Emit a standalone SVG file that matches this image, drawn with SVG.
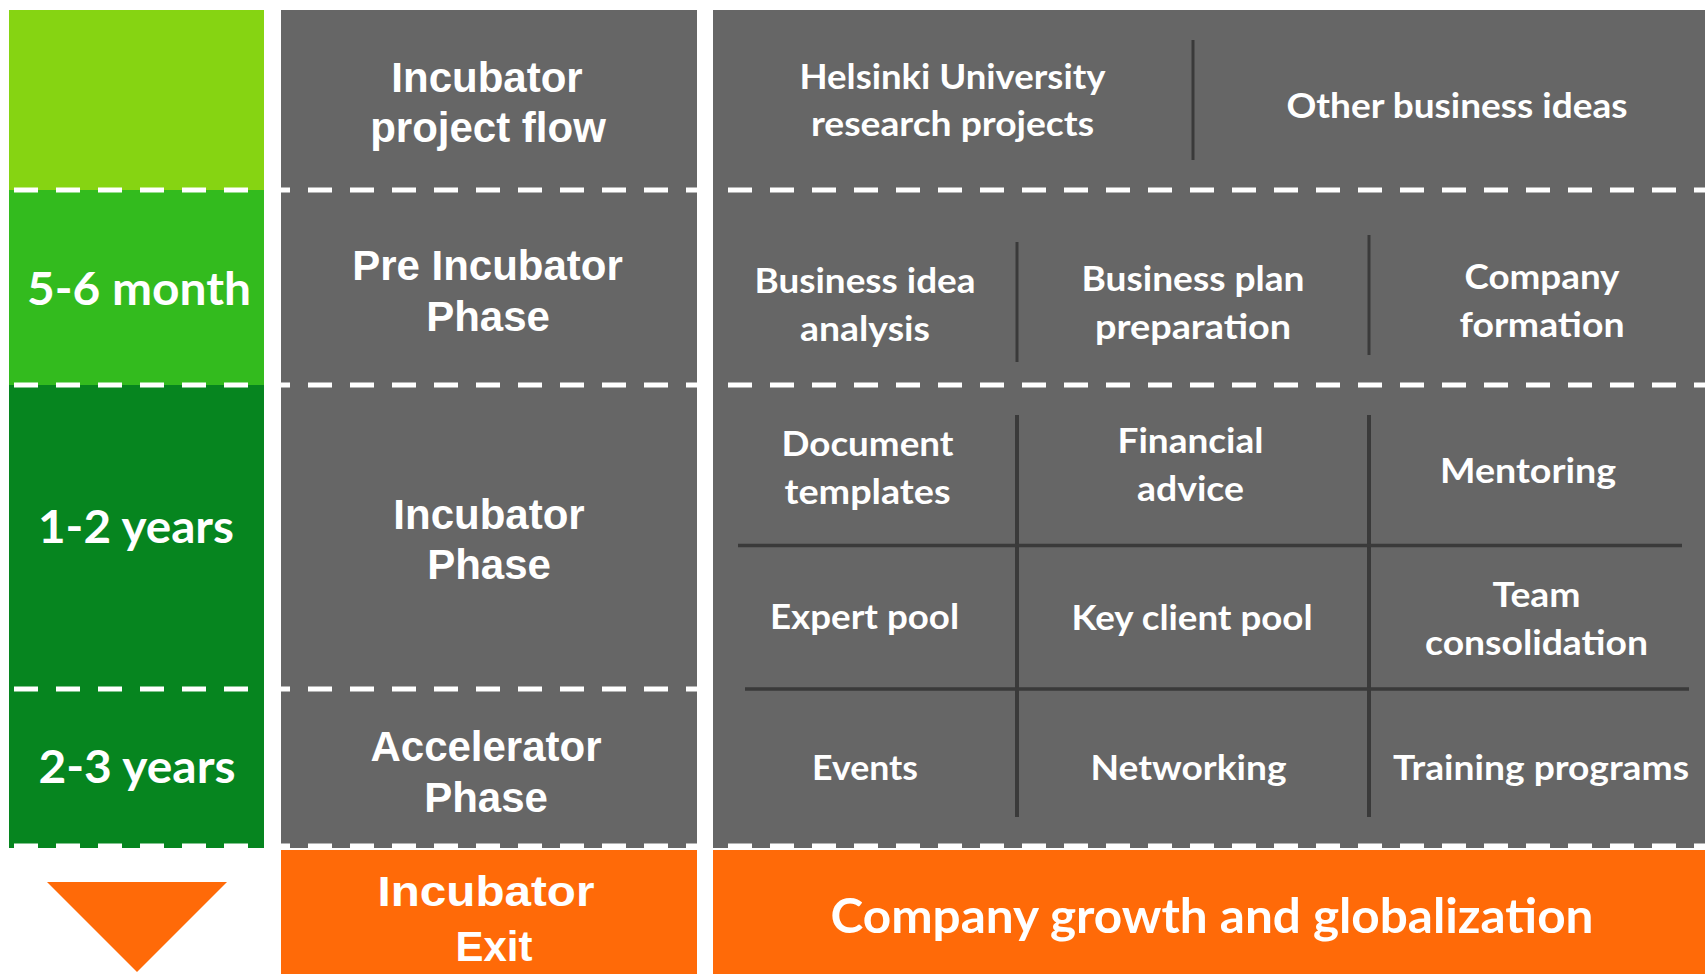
<svg xmlns="http://www.w3.org/2000/svg" width="1705" height="974" viewBox="0 0 1705 974">
<style>
.mid{font-family:"Liberation Sans",Arial,sans-serif;font-weight:bold;font-size:42px;fill:#fff;text-anchor:middle}
.lft{font-family:Lato,"Open Sans",sans-serif;font-weight:bold;font-size:46px;fill:#fff;text-anchor:middle}
.rgt{font-family:Lato,"Open Sans",sans-serif;font-weight:bold;font-size:35px;fill:#fff;text-anchor:middle}
.big{font-family:Lato,"Open Sans",sans-serif;font-weight:bold;font-size:47px;fill:#fff;text-anchor:middle}
.dash{stroke:#fff;stroke-width:5;stroke-dasharray:24 18;fill:none}
.div{stroke:#3a3a3a;fill:none}
</style>
<rect width="1705" height="974" fill="#fff"/>
<g id="timeline">
<rect x="9" y="10" width="255" height="180" fill="#86d412"/>
<rect x="9" y="190" width="255" height="195" fill="#33bb1e"/>
<rect x="9" y="385" width="255" height="463" fill="#06851f"/>
</g>
<g id="phase-column">
<rect x="281" y="10" width="416" height="838" fill="#666"/>
<rect x="281" y="850" width="416" height="124" fill="#ff6a08"/>
</g>
<g id="activity-column">
<rect x="713" y="10" width="992" height="838" fill="#666"/>
<rect x="713" y="850" width="992" height="124" fill="#ff6a08"/>
</g>
<g id="connectors">
<line class="dash" x1="14" y1="190" x2="1705" y2="190"/>
<line class="dash" x1="14" y1="385" x2="1705" y2="385"/>
<line class="dash" x1="14" y1="689" x2="697" y2="689"/>
<line class="dash" x1="14" y1="846" x2="1705" y2="846"/>
<line class="div" stroke-width="3" x1="1193" y1="40" x2="1193" y2="160"/>
<line class="div" stroke-width="3" x1="1017" y1="242" x2="1017" y2="362"/>
<line class="div" stroke-width="3" x1="1369" y1="235" x2="1369" y2="355"/>
<line class="div" stroke-width="4" x1="1017" y1="415" x2="1017" y2="817"/>
<line class="div" stroke-width="4" x1="1369" y1="415" x2="1369" y2="817"/>
<line class="div" stroke-width="3.5" x1="738" y1="545.5" x2="1682" y2="545.5"/>
<line class="div" stroke-width="3.5" x1="745" y1="689" x2="1689" y2="689"/>
</g>
<g id="arrow-down">
<polygon points="47,882 227,882 137,972" fill="#ff6a08"/>
</g>
<g id="time-5-6-month"><text class="lft" x="139" y="305" textLength="224" lengthAdjust="spacingAndGlyphs">5-6 month</text></g>
<g id="time-1-2-years"><text class="lft" x="136" y="543" textLength="196" lengthAdjust="spacingAndGlyphs">1-2 years</text></g>
<g id="time-2-3-years"><text class="lft" x="137" y="783" textLength="197" lengthAdjust="spacingAndGlyphs">2-3 years</text></g>
<g id="phase-flow">
<text class="mid" x="487" y="92">Incubator</text>
<text class="mid" x="488" y="142">project flow</text>
</g>
<g id="phase-pre">
<text class="mid" x="487.5" y="280">Pre Incubator</text>
<text class="mid" x="488" y="331">Phase</text>
</g>
<g id="phase-incubator">
<text class="mid" x="489" y="529">Incubator</text>
<text class="mid" x="489" y="579">Phase</text>
</g>
<g id="phase-accelerator">
<text class="mid" x="486" y="761">Accelerator</text>
<text class="mid" x="486" y="811.5">Phase</text>
</g>
<g id="phase-exit">
<text class="mid" x="486" y="906" font-size="47" textLength="217" lengthAdjust="spacingAndGlyphs">Incubator</text>
<text class="mid" x="494" y="961" font-size="47">Exit</text>
</g>
<g id="src-helsinki">
<text class="rgt" x="952.5" y="89" textLength="306" lengthAdjust="spacingAndGlyphs">Helsinki University</text>
<text class="rgt" x="952.5" y="136" textLength="283" lengthAdjust="spacingAndGlyphs">research projects</text>
</g>
<g id="src-other"><text class="rgt" x="1457" y="118" textLength="341" lengthAdjust="spacingAndGlyphs">Other business ideas</text></g>
<g id="pre-idea">
<text class="rgt" x="865" y="293" textLength="221" lengthAdjust="spacingAndGlyphs">Business idea</text>
<text class="rgt" x="865" y="341" textLength="130" lengthAdjust="spacingAndGlyphs">analysis</text>
</g>
<g id="pre-plan">
<text class="rgt" x="1193" y="291" textLength="223" lengthAdjust="spacingAndGlyphs">Business plan</text>
<text class="rgt" x="1193" y="339" textLength="196" lengthAdjust="spacingAndGlyphs">preparation</text>
</g>
<g id="pre-company">
<text class="rgt" x="1542" y="289" textLength="155" lengthAdjust="spacingAndGlyphs">Company</text>
<text class="rgt" x="1542" y="337" textLength="165" lengthAdjust="spacingAndGlyphs">formation</text>
</g>
<g id="inc-documents">
<text class="rgt" x="867.5" y="455.5" textLength="172" lengthAdjust="spacingAndGlyphs">Document</text>
<text class="rgt" x="867.5" y="503.5" textLength="166" lengthAdjust="spacingAndGlyphs">templates</text>
</g>
<g id="inc-financial">
<text class="rgt" x="1190.5" y="452.5" textLength="146" lengthAdjust="spacingAndGlyphs">Financial</text>
<text class="rgt" x="1190.5" y="500.5" textLength="107" lengthAdjust="spacingAndGlyphs">advice</text>
</g>
<g id="inc-mentoring"><text class="rgt" x="1528" y="483" textLength="176" lengthAdjust="spacingAndGlyphs">Mentoring</text></g>
<g id="inc-expert"><text class="rgt" x="864.5" y="629" textLength="189" lengthAdjust="spacingAndGlyphs">Expert pool</text></g>
<g id="inc-keyclient"><text class="rgt" x="1192" y="630" textLength="241" lengthAdjust="spacingAndGlyphs">Key client pool</text></g>
<g id="inc-team">
<text class="rgt" x="1536.5" y="606.5" textLength="88" lengthAdjust="spacingAndGlyphs">Team</text>
<text class="rgt" x="1536.5" y="654.5" textLength="223" lengthAdjust="spacingAndGlyphs">consolidation</text>
</g>
<g id="acc-events"><text class="rgt" x="865" y="780" textLength="106" lengthAdjust="spacingAndGlyphs">Events</text></g>
<g id="acc-networking"><text class="rgt" x="1188.5" y="780" textLength="196" lengthAdjust="spacingAndGlyphs">Networking</text></g>
<g id="acc-training"><text class="rgt" x="1541" y="780" textLength="296" lengthAdjust="spacingAndGlyphs">Training programs</text></g>
<g id="exit-growth"><text class="big" x="1212" y="933" textLength="763" lengthAdjust="spacingAndGlyphs">Company growth and globalization</text></g>
</svg>
